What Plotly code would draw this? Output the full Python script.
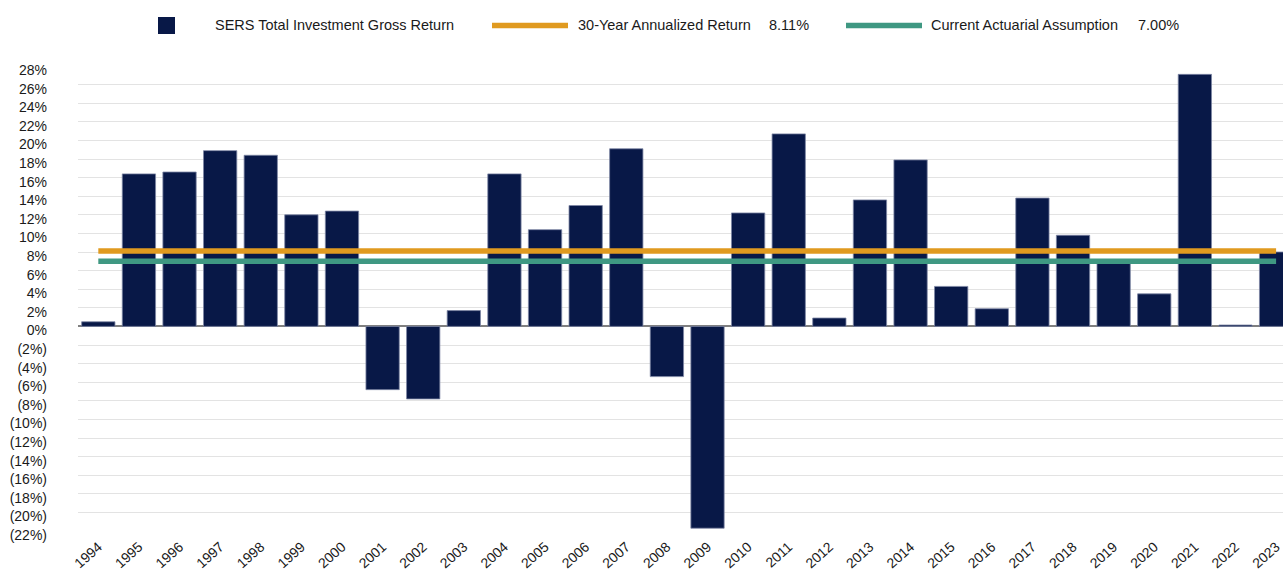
import plotly.graph_objects as go

# ---------------- data ----------------
years = ["1994", "1995", "1996", "1997", "1998", "1999", "2000", "2001", "2002", "2003",
         "2004", "2005", "2006", "2007", "2008", "2009", "2010", "2011", "2012", "2013",
         "2014", "2015", "2016", "2017", "2018", "2019", "2020", "2021", "2022", "2023"]
gross_return = [0.5, 16.4, 16.6, 18.9, 18.4, 12.0, 12.4, -6.8, -7.8, 1.7,
                16.4, 10.4, 13.0, 19.1, -5.4, -21.7, 12.2, 20.7, 0.9, 13.6,
                17.9, 4.3, 1.9, 13.8, 9.8, 6.9, 3.5, 27.1, 0.15, 8.0]
annualized_30yr = 8.11
actuarial_assumption = 7.00

y_tickvals = [-22, -20, -18, -16, -14, -12, -10, -8, -6, -4, -2, 0,
              2, 4, 6, 8, 10, 12, 14, 16, 18, 20, 22, 24, 26, 28]
y_ticktext = ["(22%)", "(20%)", "(18%)", "(16%)", "(14%)", "(12%)", "(10%)", "(8%)", "(6%)",
              "(4%)", "(2%)", "0%", "2%", "4%", "6%", "8%", "10%", "12%", "14%", "16%",
              "18%", "20%", "22%", "24%", "26%", "28%"]

legend_bar = "SERS Total Investment Gross Return"
legend_orange = "30-Year Annualized Return"
legend_green = "Current Actuarial Assumption"
orange_value_text = "8.11%"
green_value_text = "7.00%"

# ---------------- style ----------------
NAVY = "#081847"
ORANGE = "#E09A1F"
GREEN = "#3F9882"
FONT = "Liberation Sans, Arial, sans-serif"
TXT = "#1a1a1a"

W, H = 1283, 584
ML, MR, MT, MB = 78, 0, 66, 53
PW = W - ML - MR
PH = H - MT - MB


def px_x(px):
    return (px - ML) / PW


def px_y(py):
    return (H - MB - py) / PH


LEG_Y = 25.5

fig = go.Figure()

fig.add_trace(go.Bar(
    x=years, y=gross_return, name=legend_bar,
    marker=dict(color=NAVY, line=dict(color="#7d86a5", width=0.8)),
    showlegend=False,
))
fig.add_trace(go.Scatter(
    x=[years[0], years[-1]], y=[annualized_30yr, annualized_30yr],
    mode="lines", line=dict(color=ORANGE, width=5.5), name=legend_orange,
    showlegend=False,
))
fig.add_trace(go.Scatter(
    x=[years[0], years[-1]], y=[actuarial_assumption, actuarial_assumption],
    mode="lines", line=dict(color=GREEN, width=5.5), name=legend_green,
    showlegend=False,
))

# ---------------- manual legend ----------------
shapes = [
    dict(type="rect", xref="paper", yref="paper",
         x0=px_x(158), x1=px_x(175), y0=px_y(LEG_Y + 8.5), y1=px_y(LEG_Y - 8.5),
         fillcolor=NAVY, line=dict(width=0)),
    dict(type="line", xref="paper", yref="paper",
         x0=px_x(492), x1=px_x(568), y0=px_y(LEG_Y), y1=px_y(LEG_Y),
         line=dict(color=ORANGE, width=5.5)),
    dict(type="line", xref="paper", yref="paper",
         x0=px_x(846), x1=px_x(922), y0=px_y(LEG_Y), y1=px_y(LEG_Y),
         line=dict(color=GREEN, width=5.5)),
]
annotations = []
for text, xpx in [(legend_bar, 213), (legend_orange, 576), (orange_value_text, 767),
                  (legend_green, 929), (green_value_text, 1136)]:
    annotations.append(dict(
        text=text, xref="paper", yref="paper", x=px_x(xpx), y=px_y(LEG_Y),
        xanchor="left", yanchor="middle", showarrow=False,
        font=dict(family=FONT, size=14.5, color=TXT),
    ))

fig.update_layout(
    width=W, height=H,
    margin=dict(l=ML, r=MR, t=MT, b=MB, autoexpand=False),
    plot_bgcolor="white", paper_bgcolor="white",
    bargap=0.18,
    shapes=shapes, annotations=annotations,
    font=dict(family=FONT, size=14, color=TXT),
    xaxis=dict(
        type="category", range=[-0.5, 29.17],
        tickangle=-42, tickfont=dict(family=FONT, size=14, color=TXT),
        showgrid=False, showline=False, ticks="", automargin=False,
        ticklabelstandoff=4,
    ),
    yaxis=dict(
        range=[-22, 28], tickvals=y_tickvals, ticktext=y_ticktext,
        tickfont=dict(family=FONT, size=14, color=TXT),
        showgrid=True, gridcolor="#e3e3e3", gridwidth=1.2,
        zeroline=True, zerolinecolor="#808080", zerolinewidth=1.5,
        showline=False, ticks="", ticklabelstandoff=30, ticklabelshift=4,
        automargin=False,
    ),
)

fig.write_html("out.html", config={"displayModeBar": False},
               post_script="document.body.style.margin='0px';")
